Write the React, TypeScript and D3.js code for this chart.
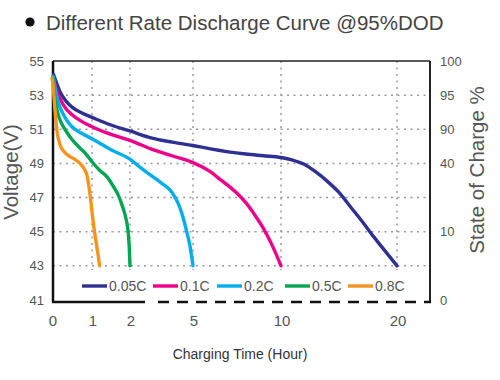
import React from "react";
import * as d3 from "d3";

// ---- data ----
const seriesNames = ["0.05C", "0.1C", "0.2C", "0.5C", "0.8C"];
const seriesColors = ["#2e3192", "#ec008c", "#00aeef", "#00a651", "#f7941d"];

const t005 = [0.04, 0.1, 0.2, 0.35, 0.5, 0.75, 1, 1.5, 2, 3, 4, 5, 6, 7, 8, 9, 10, 11, 12, 13, 14, 15, 16, 17, 18, 19, 20];
const v005 = [54.2, 53.8, 53.2, 52.65, 52.3, 51.95, 51.7, 51.25, 50.9, 50.5, 50.25, 50.05, 49.85, 49.68, 49.55, 49.45, 49.35, 49.2, 48.95, 48.5, 47.95, 47.3, 46.45, 45.6, 44.7, 43.85, 43.0];

const t01 = [0.03, 0.1, 0.2, 0.35, 0.5, 0.75, 1, 1.5, 2, 3, 4, 5, 5.5, 6, 6.5, 7, 7.5, 8, 8.5, 9, 9.5, 10];
const v01 = [54.1, 53.4, 52.8, 52.2, 51.85, 51.45, 51.15, 50.7, 50.35, 49.85, 49.45, 49.05, 48.8, 48.5, 48.1, 47.7, 47.25, 46.7, 46.0, 45.2, 44.2, 43.0];

const t02 = [0.03, 0.1, 0.2, 0.35, 0.5, 0.75, 1, 1.5, 2, 2.5, 3, 3.5, 4, 4.3, 4.5, 4.7, 4.85, 5];
const v02 = [54.1, 53.1, 52.3, 51.6, 51.15, 50.75, 50.45, 49.8, 49.25, 48.75, 48.3, 47.85, 47.3, 46.65, 45.95, 45.0, 44.2, 43.0];

const t05 = [0.02, 0.07, 0.15, 0.25, 0.35, 0.5, 0.7, 0.85, 1, 1.2, 1.4, 1.55, 1.7, 1.8, 1.88, 1.95, 1.98, 2.0];
const v05 = [54.0, 52.9, 51.9, 51.3, 50.9, 50.4, 49.9, 49.55, 49.1, 48.6, 48.2, 47.7, 47.1, 46.5, 45.9, 45.0, 44.1, 43.0];

const t08 = [0, 0.03, 0.075, 0.125, 0.2, 0.3, 0.45, 0.6, 0.7, 0.8, 0.875, 0.95, 1.03, 1.1, 1.15, 1.2];
const v08 = [54.0, 53.5, 52.1, 50.9, 50.1, 49.7, 49.4, 49.2, 49.0, 48.7, 48.3, 47.2, 45.6, 44.5, 43.8, 43.0];

const seriesT = [t005, t01, t02, t05, t08];
const seriesV = [v005, v01, v02, v05, v08];

const xTicks = [0, 1, 2, 5, 10, 20];
const yTicks = [55, 53, 51, 49, 47, 45, 43, 41];
const yGrid = [53, 51, 49, 47, 45, 43];
const xGrid = [1, 2, 5, 10, 20];
const socTickV = [55, 53, 51, 49, 45, 41];
const socLabels = ["100", "95", "90", "40", "10", "0"];

const title = "Different Rate Discharge Curve @95%DOD";
const xTitle = "Charging Time (Hour)";
const yTitle = "Voltage(V)";
const y2Title = "State of Charge %";

export default function App() {
  const W = 500, H = 380;
  const left = 53, right = 430, top = 61, bottom = 302;
  // non-linear (piecewise) time axis
  const x = d3.scaleLinear().domain(xTicks).range([52, 92, 130, 193, 281, 397]);
  const y = d3.scaleLinear().domain([41, 55]).range([300, 61]);
  const font = "'Liberation Sans', Arial, Helvetica, sans-serif";

  const line = d3
    .line<[number, number]>()
    .x((d) => x(d[0]))
    .y((d) => y(d[1]))
    .curve(d3.curveMonotoneX);

  const legendX = [82, 153, 217, 285, 348];

  return (
    <svg
      width={W}
      height={H}
      style={{ position: "absolute", left: 0, top: 0, background: "#fff" }}
      fontFamily={font}
    >
      <rect x={0} y={0} width={W} height={H} fill="#fff" />
      {/* title */}
      <circle cx={30} cy={22} r={4.6} fill="#111" />
      <text x={46} y={30} fontSize={20.5} fill="#444">
        {title}
      </text>

      {/* grid */}
      {yGrid.map((v) => (
        <line
          key={"hg" + v}
          x1={left}
          x2={right}
          y1={y(v)}
          y2={y(v)}
          stroke="#9a9a9a"
          strokeWidth={1.5}
          strokeDasharray="2 4.5"
        />
      ))}
      {xGrid.map((t) => (
        <line
          key={"vg" + t}
          x1={x(t)}
          x2={x(t)}
          y1={top}
          y2={270}
          stroke="#9a9a9a"
          strokeWidth={1.5}
          strokeDasharray="2 4.5"
        />
      ))}

      {/* frame */}
      <line x1={left} x2={right} y1={top} y2={top} stroke="#222" strokeWidth={1.6} />
      <line x1={right} x2={right} y1={top} y2={bottom} stroke="#222" strokeWidth={2} />
      <line x1={left} x2={left} y1={top} y2={bottom} stroke="#111" strokeWidth={2.5} />
      <line x1={left - 1} x2={145} y1={bottom} y2={bottom} stroke="#111" strokeWidth={2.5} />
      <line x1={158} x2={right + 1} y1={bottom} y2={bottom} stroke="#111" strokeWidth={2.5} strokeDasharray="11 8" />

      {/* curves */}
      {seriesNames.map((name, i) => {
        const pts = seriesT[i].map((t, j) => [t, seriesV[i][j]] as [number, number]);
        return (
          <path
            key={name}
            d={line(pts) || ""}
            fill="none"
            stroke={seriesColors[i]}
            strokeWidth={3.4}
            strokeLinecap="round"
            strokeLinejoin="round"
          />
        );
      })}

      {/* legend */}
      {seriesNames.map((name, i) => (
        <g key={"lg" + name}>
          <line
            x1={legendX[i]}
            x2={legendX[i] + 25}
            y1={286}
            y2={286}
            stroke={seriesColors[i]}
            strokeWidth={3.4}
          />
          <text x={legendX[i] + 27} y={291} fontSize={14} fill="#555">
            {name}
          </text>
        </g>
      ))}

      {/* left ticks */}
      {yTicks.map((v) => (
        <text key={"yt" + v} x={44} y={y(v) + 4.5} fontSize={13} fill="#555" textAnchor="end">
          {v}
        </text>
      ))}
      {/* right SOC labels */}
      {socTickV.map((v, i) => (
        <text key={"st" + i} x={440} y={y(v) + 4.5} fontSize={13} fill="#555">
          {socLabels[i]}
        </text>
      ))}
      {/* x ticks */}
      {xTicks.map((t) => (
        <text key={"xt" + t} x={x(t) + 1} y={326} fontSize={15} fill="#555" textAnchor="middle">
          {t}
        </text>
      ))}

      {/* axis titles */}
      <text x={240} y={359} fontSize={14} fill="#333" textAnchor="middle">
        {xTitle}
      </text>
      <text transform="translate(18,172) rotate(-90)" fontSize={20.5} fill="#555" textAnchor="middle">
        {yTitle}
      </text>
      <text transform="translate(484,170) rotate(-90)" fontSize={20.5} fill="#555" textAnchor="middle">
        {y2Title}
      </text>
    </svg>
  );
}
